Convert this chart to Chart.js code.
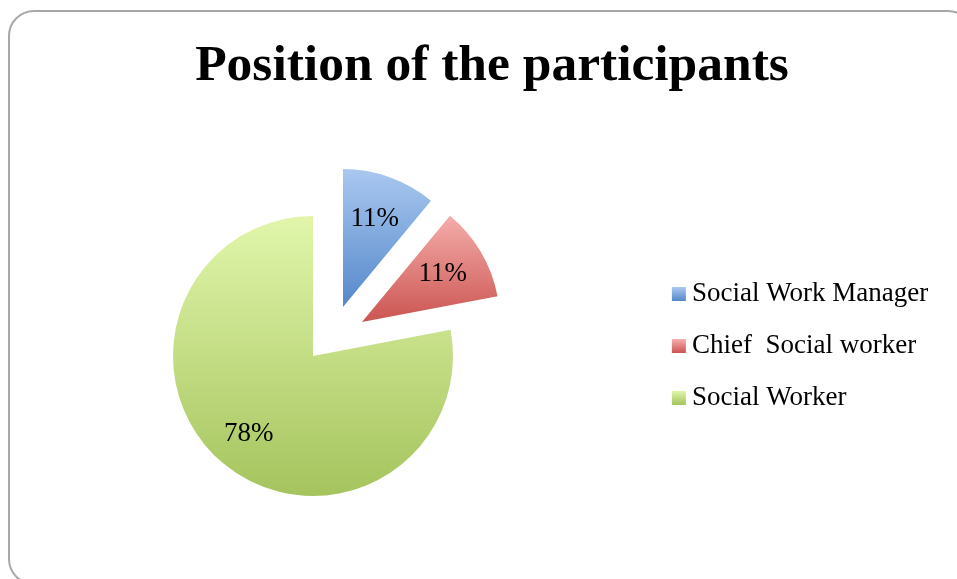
<!DOCTYPE html>
<html>
<head>
<meta charset="utf-8">
<script src="https://cdn.jsdelivr.net/npm/chart.js@4.4.1/dist/chart.umd.min.js"></script>
<style>
  html, body { margin: 0; padding: 0; background: #fff; overflow: hidden; }
  #wrap { position: relative; width: 957px; height: 579px; overflow: hidden; }
  #frame {
    position: absolute; left: 8px; top: 10px; width: 966px; height: 575px;
    border: 2px solid #a8a8a8; border-radius: 26px; box-sizing: border-box;
  }
  canvas { position: absolute; left: 0; top: 0; }
</style>
</head>
<body>
<div id="wrap">
  <div id="frame"></div>
  <canvas id="chart" width="957" height="579"></canvas>
  <canvas id="slice0" width="957" height="579"></canvas>
  <canvas id="slice1" width="957" height="579"></canvas>
</div>
<script>
const titleText = "Position of the participants";
const labels = ["Social Work Manager", "Chief  Social worker", "Social Worker"];
const values = [11, 11, 78];
const pulledOut = [true, true, false];

const colorsTop = ["#abc9f1", "#f6b0ae", "#e0f5aa"];
const colorsBottom = ["#5588ca", "#cb5551", "#a4c35c"];
// gradient span of each slice, relative to its own pie centre
const gradTop = [-140, -110, -135];
const gradBottom = [0, 0, 145];

const W = 957, H = 579;
const serif = "'Liberation Serif', 'Times New Roman', serif";
// where each slice's tip sits (exploded slices are drawn on their own canvas)
const sliceCenters = [[343, 307], [362, 322], [313, 356]];
const sliceRadius = [138, 138, 140];
const labelFrac = [0.68, 0.68, 0.72];
const legendFontSize = 27;
const legendPad = 25;
const textX = 692;        // where legend text starts
const titleCenterX = 492;

// measure the longest legend label so the legend lands where the original has it
const mctx = document.createElement("canvas").getContext("2d");
mctx.font = legendFontSize + "px " + serif;
const textW = Math.max(...labels.map((l) => mctx.measureText(l).width));
const mainCx = sliceCenters[2][0];
const padRight = W - textX - textW - 10;
const padLeft = padRight - W + 2 * titleCenterX;
const legendLeft = 2 * mainCx - padLeft;
const markerW = textX - legendPad - legendFontSize / 2 - legendLeft;

// legend squares, drawn into small canvases used as point styles
const markers = labels.map((l, i) => {
  const dx = markerW / 2 + 0.5;
  const w = 2 * Math.ceil(dx + 8);
  const c = document.createElement("canvas");
  c.width = w;
  c.height = 14;
  const g = c.getContext("2d");
  const grad = g.createLinearGradient(0, 0, 0, 14);
  grad.addColorStop(0, colorsTop[i]);
  grad.addColorStop(1, colorsBottom[i]);
  g.fillStyle = grad;
  g.fillRect(Math.round(w / 2 + dx - 7), 0, 14, 14);
  return c;
});

function fillFor(shown) {
  return (c) => {
    const i = c.dataIndex;
    if (i === undefined) return colorsBottom[0];
    if (i !== shown) return "rgba(0,0,0,0)";
    const area = c.chart.chartArea;
    if (!area) return colorsBottom[i];
    const cy = (area.top + area.bottom) / 2;
    const grad = c.chart.ctx.createLinearGradient(0, cy + gradTop[i], 0, cy + gradBottom[i]);
    grad.addColorStop(0, colorsTop[i]);
    grad.addColorStop(1, colorsBottom[i]);
    return grad;
  };
}

// percentage label inside the visible slice
function labelFor(shown) {
  return {
    id: "sliceLabel",
    afterDatasetsDraw(chart) {
      const ctx = chart.ctx;
      const arc = chart.getDatasetMeta(0).data[shown];
      const p = arc.getProps(["x", "y", "startAngle", "endAngle", "outerRadius"], true);
      const mid = (p.startAngle + p.endAngle) / 2;
      const d = p.outerRadius * labelFrac[shown];
      const total = values.reduce((a, b) => a + b, 0);
      ctx.save();
      ctx.font = "27px " + serif;
      ctx.fillStyle = "#000";
      ctx.textAlign = "center";
      ctx.textBaseline = "middle";
      ctx.fillText(Math.round((values[shown] / total) * 100) + "%", p.x + Math.cos(mid) * d, p.y + Math.sin(mid) * d);
      ctx.restore();
    },
  };
}

function pieDataset(shown) {
  return {
    data: values,
    backgroundColor: fillFor(shown),
    borderWidth: 0,
    hoverOffset: 0,
    radius: sliceRadius[shown],
  };
}

const baseLabels = (Chart.overrides.pie || Chart.overrides.doughnut).plugins.legend.labels.generateLabels;

// main chart: title, legend and the slice that stays in place
const mainIdx = 2;
const mainCy = sliceCenters[mainIdx][1];
const padTop = 115, padBottom = 2;
const titleBlock = 2 * mainCy - H - (padTop - padBottom);
const titlePadTop = -78.8;

new Chart(document.getElementById("chart"), {
  type: "pie",
  data: { labels: labels, datasets: [pieDataset(mainIdx)] },
  options: {
    responsive: false,
    animation: false,
    events: [],
    layout: {
      padding: { left: padLeft, right: padRight, top: padTop, bottom: padBottom },
    },
    plugins: {
      title: {
        display: true,
        text: titleText,
        color: "#000",
        font: { family: serif, size: 51.5, weight: "bold" },
        padding: { top: titlePadTop, bottom: titleBlock - 51.5 * 1.2 - titlePadTop },
      },
      legend: {
        position: "right",
        fullSize: true,
        labels: {
          font: { family: serif, size: legendFontSize },
          color: "#000",
          padding: legendPad,
          usePointStyle: true,
          pointStyleWidth: markerW,
          generateLabels: (chart) =>
            baseLabels(chart).map((item, i) => ({ ...item, pointStyle: markers[i] })),
        },
      },
      tooltip: { enabled: false },
    },
  },
  plugins: [labelFor(mainIdx)],
});

// pulled-out slices, each on its own canvas centred on its tip
pulledOut.forEach((out, i) => {
  if (!out) return;
  const [cx, cy] = sliceCenters[i];
  new Chart(document.getElementById("slice" + i), {
    type: "pie",
    data: { labels: labels, datasets: [pieDataset(i)] },
    options: {
      responsive: false,
      animation: false,
      events: [],
      layout: {
        padding: {
          left: Math.max(2 * cx - W, 0),
          right: Math.max(W - 2 * cx, 0),
          top: Math.max(2 * cy - H, 0),
          bottom: Math.max(H - 2 * cy, 0),
        },
      },
      plugins: {
        title: { display: false },
        legend: { display: false },
        tooltip: { enabled: false },
      },
    },
    plugins: [labelFor(i)],
  });
});
</script>
</body>
</html>
